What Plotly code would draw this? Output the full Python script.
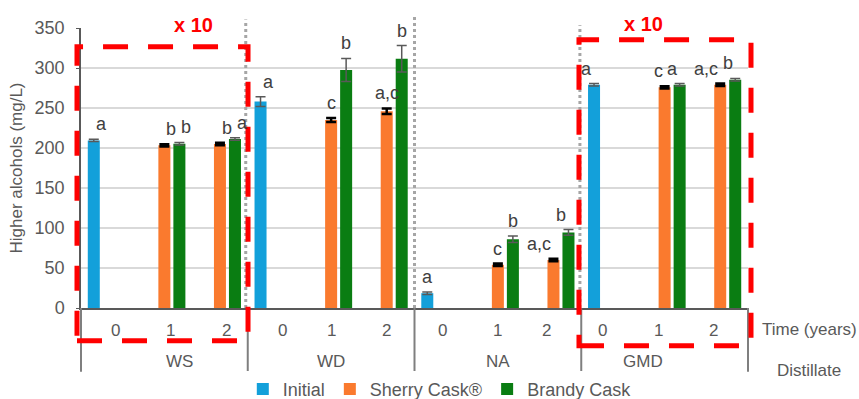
import plotly.graph_objects as go

# Distillates and ageing times (years)
distillates = ["WS", "WD", "NA", "GMD"]
times = ["0", "1", "2"]

# Higher alcohols (mg/L); WS and GMD are shown divided by 10
initial_mean = [209.5, 258.0, 18.5, 279.0]          # time 0
initial_sd = [1.5, 6.0, 1.5, 1.5]
initial_lab = ["a", "a", "a", "a"]

sherry_mean = [[203.3, 205.0], [235.0, 246.0], [54.0, 60.0], [275.8, 279.0]]   # times 1, 2
sherry_sd = [[1.5, 1.5], [2.5, 3.5], [1.5, 1.5], [1.5, 1.5]]
sherry_lab = [["b", "b"], ["c", "a,c"], ["c", "a,c"], ["c", "a,c"]]

brandy_mean = [[205.4, 211.3], [297.5, 311.6], [86.0, 94.5], [279.0, 285.4]]   # times 1, 2
brandy_sd = [[1.5, 1.5], [14.5, 16.5], [4.0, 3.5], [1.5, 1.5]]
brandy_lab = [["b", "a"], ["b", "b"], ["b", "b"], ["a", "b"]]

COL_INIT = "#13A0DA"
COL_SHERRY = "#FA7A2E"
COL_BRANDY = "#0A7D12"
TXT = "#595959"
FONT = "Liberation Sans, Arial, sans-serif"

x_dist = [d for d in distillates for t in times]
x_time = [t for d in distillates for t in times]
ncat = len(x_dist)


def expand(at_zero, later):
    out = []
    for i in range(len(distillates)):
        for t in times:
            if t == "0":
                out.append(at_zero[i] if at_zero is not None else None)
            else:
                out.append(later[i][int(t) - 1] if later is not None else None)
    return out


series = [
    ("Initial", COL_INIT, expand(initial_mean, None), expand(initial_sd, None),
     expand(initial_lab, None), "#595959", 1.5),
    ("Sherry Cask®", COL_SHERRY, expand(None, sherry_mean), expand(None, sherry_sd),
     expand(None, sherry_lab), "#000000", 2.5),
    ("Brandy Cask", COL_BRANDY, expand(None, brandy_mean), expand(None, brandy_sd),
     expand(None, brandy_lab), "#595959", 1.5),
]

BARGAP = 0.19
fig = go.Figure()
for name, col, ys, es, _, ecol, ethick in series:
    fig.add_trace(go.Bar(
        name=name, x=[x_dist, x_time], y=ys, marker_color=col,
        marker_line_width=0,
        error_y=dict(type="data", array=[e if e is not None else 0 for e in es],
                     color=ecol, thickness=ethick, width=5, visible=True),
    ))

# significance letters above each bar (positioned on the category index)
slot = (1 - BARGAP) / len(series)
annotations = []
for s, (_, _, ys, es, labs, _, _) in enumerate(series):
    for k in range(ncat):
        if ys[k] is None:
            continue
        annotations.append(dict(
            xref="paper", yref="y",
            x=(k + 0.5 + (s - 1) * slot) / ncat, y=ys[k] + es[k],
            text=labs[k], showarrow=False, yanchor="bottom", yshift=3,
            font=dict(size=18, color="#404040", family=FONT)))

# two-level category labels: time under each category, distillate under each group
for k in range(ncat):
    annotations.append(dict(xref="paper", yref="paper", x=(k + 0.5) / ncat, y=-0.081,
                            text=x_time[k], showarrow=False, yanchor="middle",
                            font=dict(size=17, color=TXT, family=FONT)))
ntime = len(times)
for g, d in enumerate(distillates):
    annotations.append(dict(xref="paper", yref="paper", x=(g * ntime + ntime / 2) / ncat,
                            y=-0.19, text=d, showarrow=False, yanchor="middle",
                            font=dict(size=17, color=TXT, family=FONT)))

# axis captions at the right and the scale notes
annotations += [
    dict(xref="paper", yref="paper", x=1.018, y=-0.078, xanchor="left", yanchor="middle",
         text="Time (years)", showarrow=False, font=dict(size=17, color=TXT, family=FONT)),
    dict(xref="paper", yref="paper", x=1.040, y=-0.222, xanchor="left", yanchor="middle",
         text="Distillate", showarrow=False, font=dict(size=17, color=TXT, family=FONT)),
    dict(xref="paper", yref="paper", x=0.136, y=1.012, yanchor="middle", text="<b>x 10</b>",
         showarrow=False, font=dict(size=20, color="#FF0000", family=FONT)),
    dict(xref="paper", yref="paper", x=0.876, y=1.015, yanchor="middle", text="<b>x 10</b>",
         showarrow=False, font=dict(size=20, color="#FF0000", family=FONT)),
]

shapes = []
# group dividers below the axis
for g in range(len(distillates) + 1):
    xp = g * ntime / ncat
    shapes.append(dict(type="line", xref="paper", yref="paper", x0=xp, x1=xp, y0=0, y1=-0.2275,
                       line=dict(color="#7F7F7F", width=2), layer="above"))
# dotted separators between distillates inside the plot
for xp, ytop in [(0.247, 1.03), (0.5, 1.04), (0.748, 1.01)]:
    shapes.append(dict(type="line", xref="paper", yref="paper", x0=xp, x1=xp, y0=0, y1=ytop,
                       line=dict(color="#A6A6A6", width=3, dash="dot"), layer="above"))
# red dashed frames around the scaled distillates
for x0, x1, y0, y1 in [(-0.006, 0.2504, -0.117, 0.933), (0.7466, 1.0045, -0.135, 0.958)]:
    shapes.append(dict(type="rect", xref="paper", yref="paper", x0=x0, x1=x1, y0=y0, y1=y1,
                       line=dict(color="#FF0000", width=5, dash="25px,20px"),
                       fillcolor="rgba(0,0,0,0)", layer="above"))

fig.update_layout(
    width=859, height=399,
    margin=dict(l=81, r=111, t=28, b=91),
    paper_bgcolor="white", plot_bgcolor="white",
    barmode="group", bargap=BARGAP, bargroupgap=0.2,
    font=dict(family=FONT, color=TXT),
    showlegend=True,
    legend=dict(orientation="h", xref="container", yref="container",
                x=0.512, y=0.024, xanchor="center", yanchor="middle",
                font=dict(size=18, color=TXT, family=FONT), traceorder="normal",
                itemclick=False),
    annotations=annotations, shapes=shapes,
)
fig.update_yaxes(range=[0, 350], dtick=50, showgrid=True, gridcolor="#D9D9D9", gridwidth=1.5,
                 showline=True, linecolor=TXT, linewidth=1.5, zeroline=False,
                 ticks="outside", ticklen=3, tickcolor=TXT, ticklabelstandoff=8,
                 automargin=False,
                 tickfont=dict(size=18, color=TXT, family=FONT),
                 title=dict(text="Higher alcohols (mg/L)", standoff=8,
                            font=dict(size=17, color=TXT, family=FONT)))
fig.update_xaxes(type="multicategory", showline=True, linecolor=TXT, linewidth=1.5,
                 showticklabels=False, showdividers=False, automargin=False, ticks="")

fig.write_html("out.html")
